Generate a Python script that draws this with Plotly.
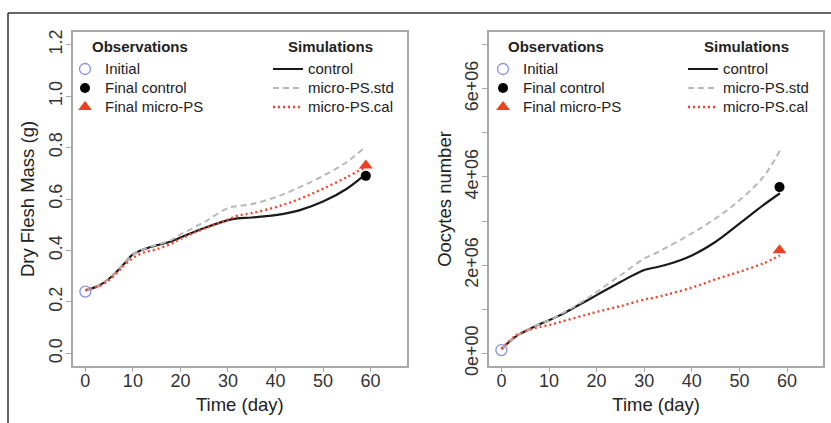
import plotly.graph_objects as go

# ---- Data ----
t_sim = [0, 3, 5, 7, 8, 10, 12, 15, 18, 20, 25, 30, 32, 35, 40, 45, 50, 55, 58.5]

dfm_control = [0.245, 0.265, 0.29, 0.325, 0.345, 0.385, 0.403, 0.42, 0.435, 0.45, 0.487, 0.518, 0.525, 0.528, 0.537, 0.556, 0.59, 0.64, 0.69]
dfm_std = [0.245, 0.265, 0.29, 0.325, 0.345, 0.385, 0.403, 0.422, 0.44, 0.462, 0.51, 0.565, 0.572, 0.58, 0.607, 0.645, 0.69, 0.744, 0.796]
dfm_cal = [0.245, 0.262, 0.285, 0.32, 0.34, 0.37, 0.39, 0.405, 0.425, 0.445, 0.485, 0.52, 0.535, 0.545, 0.568, 0.6, 0.64, 0.685, 0.72]

ooc_control = [0.1e6, 0.38e6, 0.5e6, 0.61e6, 0.66e6, 0.75e6, 0.85e6, 1.02e6, 1.2e6, 1.32e6, 1.62e6, 1.89e6, 1.94e6, 2.02e6, 2.22e6, 2.53e6, 2.94e6, 3.36e6, 3.63e6]
ooc_std = [0.1e6, 0.38e6, 0.5e6, 0.61e6, 0.66e6, 0.75e6, 0.86e6, 1.04e6, 1.24e6, 1.39e6, 1.77e6, 2.15e6, 2.25e6, 2.42e6, 2.72e6, 3.06e6, 3.47e6, 4.0e6, 4.6e6]
ooc_cal = [0.1e6, 0.4e6, 0.5e6, 0.57e6, 0.6e6, 0.64e6, 0.7e6, 0.79e6, 0.88e6, 0.94e6, 1.07e6, 1.22e6, 1.26e6, 1.34e6, 1.49e6, 1.68e6, 1.85e6, 2.04e6, 2.22e6]

obs_t_initial = [0]
obs_t_final_left = [59]
obs_t_final_right = [58.4]
dfm_initial = [0.24]
dfm_final_control = [0.69]
dfm_final_micro = [0.73]
ooc_initial = [0.075e6]
ooc_final_control = [3.77e6]
ooc_final_micro = [2.34e6]

x_ticks = [0, 10, 20, 30, 40, 50, 60]
dfm_ticks = [0.0, 0.2, 0.4, 0.6, 0.8, 1.0, 1.2]
dfm_ticktext = ["0.0", "0.2", "0.4", "0.6", "0.8", "1.0", "1.2"]
ooc_ticks = [0, 1e6, 2e6, 3e6, 4e6, 5e6, 6e6, 7e6]
ooc_ticktext = ["0e+00", "", "2e+06", "", "4e+06", "", "6e+06", ""]

# ---- Styles ----
FONT = "Liberation Sans, Arial, Helvetica, sans-serif"
C_CTRL = "#1a1a1a"
C_STD = "#b8b8b8"
C_CAL = "#f0452d"
C_INIT = "#8a8ee0"
C_TRI = "#ee3f25"

W, H = 831, 423


def lbl(s):
    return '<span style="font-size:15px">' + s + '</span>'


fig = go.Figure()


def add_panel(xa, ya, t_fin, init, fctrl, fmicro, ctrl, std, cal, lg_obs, lg_sim):
    fig.add_trace(go.Scatter(x=t_sim, y=ctrl, mode="lines", name=lbl("control"),
                             line=dict(color=C_CTRL, width=2.2, shape="spline"),
                             xaxis=xa, yaxis=ya, legend=lg_sim))
    fig.add_trace(go.Scatter(x=t_sim, y=std, mode="lines", name=lbl("micro-PS.std"),
                             line=dict(color=C_STD, width=2, dash="6px,4px", shape="spline"),
                             xaxis=xa, yaxis=ya, legend=lg_sim))
    fig.add_trace(go.Scatter(x=t_sim, y=cal, mode="lines", name=lbl("micro-PS.cal"),
                             line=dict(color=C_CAL, width=2.4, dash="2px,3px", shape="spline"),
                             xaxis=xa, yaxis=ya, legend=lg_sim))
    fig.add_trace(go.Scatter(x=obs_t_initial, y=init, mode="markers", name=lbl("Initial"),
                             marker=dict(symbol="circle-open", size=11, color=C_INIT, line=dict(width=1.3)),
                             xaxis=xa, yaxis=ya, legend=lg_obs))
    fig.add_trace(go.Scatter(x=t_fin, y=fctrl, mode="markers", name=lbl("Final control"),
                             marker=dict(symbol="circle", size=10, color="#000000"),
                             xaxis=xa, yaxis=ya, legend=lg_obs))
    fig.add_trace(go.Scatter(x=t_fin, y=fmicro, mode="markers", name=lbl("Final micro-PS"),
                             marker=dict(symbol="triangle-up", size=12, color=C_TRI),
                             xaxis=xa, yaxis=ya, legend=lg_obs))


add_panel("x", "y", obs_t_final_left, dfm_initial, dfm_final_control, dfm_final_micro,
          dfm_control, dfm_std, dfm_cal, "legend", "legend2")
add_panel("x2", "y2", obs_t_final_right, ooc_initial, ooc_final_control, ooc_final_micro,
          ooc_control, ooc_std, ooc_cal, "legend3", "legend4")

axis_common = dict(showline=True, mirror=True, linecolor="#a8a8a8", linewidth=1.5,
                   ticks="outside", ticklen=5, tickwidth=1, tickcolor="#a8a8a8",
                   showgrid=False, zeroline=False, automargin=False,
                   tickfont=dict(family=FONT, size=18, color="#333333"))


def px(x):
    return x / W


def py(y):
    return 1 - y / H


legend_common = dict(bgcolor="rgba(0,0,0,0)", borderwidth=0, xanchor="left", yanchor="top",
                     font=dict(family=FONT, size=12.3, color="#222222"), itemclick=False,
                     tracegroupgap=0)

xtitle = dict(text="Time (day)", font=dict(family=FONT, size=18.5, color="#222222"), standoff=8)

fig.update_layout(
    width=W, height=H, autosize=False,
    margin=dict(l=0, r=0, t=0, b=0),
    paper_bgcolor="white", plot_bgcolor="white",
    font=dict(family=FONT, color="#222222"),
    xaxis=dict(domain=[px(73), px(406.7)], range=[-2.6, 67.6], tickvals=x_ticks,
               anchor="y", ticklabelstandoff=-7, title=xtitle, **axis_common),
    yaxis=dict(domain=[py(365.7), py(32.3)], range=[-0.048, 1.248], tickvals=dfm_ticks,
               ticktext=dfm_ticktext, tickangle=-90, anchor="x", ticklabelstandoff=-3,
               title=dict(text="Dry Flesh Mass (g)", font=dict(family=FONT, size=18.5, color="#222222"), standoff=7),
               **axis_common),
    xaxis2=dict(domain=[px(489), px(823.3)], range=[-2.6, 67.6], tickvals=x_ticks,
                anchor="y2", ticklabelstandoff=-7, title=xtitle, **axis_common),
    yaxis2=dict(domain=[py(365.7), py(32.3)], range=[-0.28e6, 7.28e6], tickvals=ooc_ticks,
                ticktext=ooc_ticktext, tickangle=-90, anchor="x2", ticklabelstandoff=-3,
                title=dict(text="Oocytes number", font=dict(family=FONT, size=18.5, color="#222222"), standoff=6),
                **axis_common),
    legend=dict(x=px(65), y=py(54.5), **legend_common),
    legend2=dict(x=px(268), y=py(54.5), **legend_common),
    legend3=dict(x=px(483), y=py(54.5), **legend_common),
    legend4=dict(x=px(683), y=py(54.5), **legend_common),
    showlegend=True,
)

# headers of the legends
for xc, txt in [(140, "Observations"), (330.5, "Simulations"), (556, "Observations"), (746.5, "Simulations")]:
    fig.add_annotation(x=px(xc), y=py(46), xref="paper", yref="paper", text="<b>" + txt + "</b>",
                       showarrow=False, xanchor="center", yanchor="middle",
                       font=dict(family=FONT, size=15, color="#222222"))

# outer frame (top and left)
fig.add_shape(type="line", xref="paper", yref="paper", x0=px(8), x1=1, y0=py(13), y1=py(13),
              line=dict(color="#333333", width=1.5))
fig.add_shape(type="line", xref="paper", yref="paper", x0=px(8), x1=px(8), y0=py(13), y1=0,
              line=dict(color="#333333", width=1.5))

fig.write_html("out.html")
